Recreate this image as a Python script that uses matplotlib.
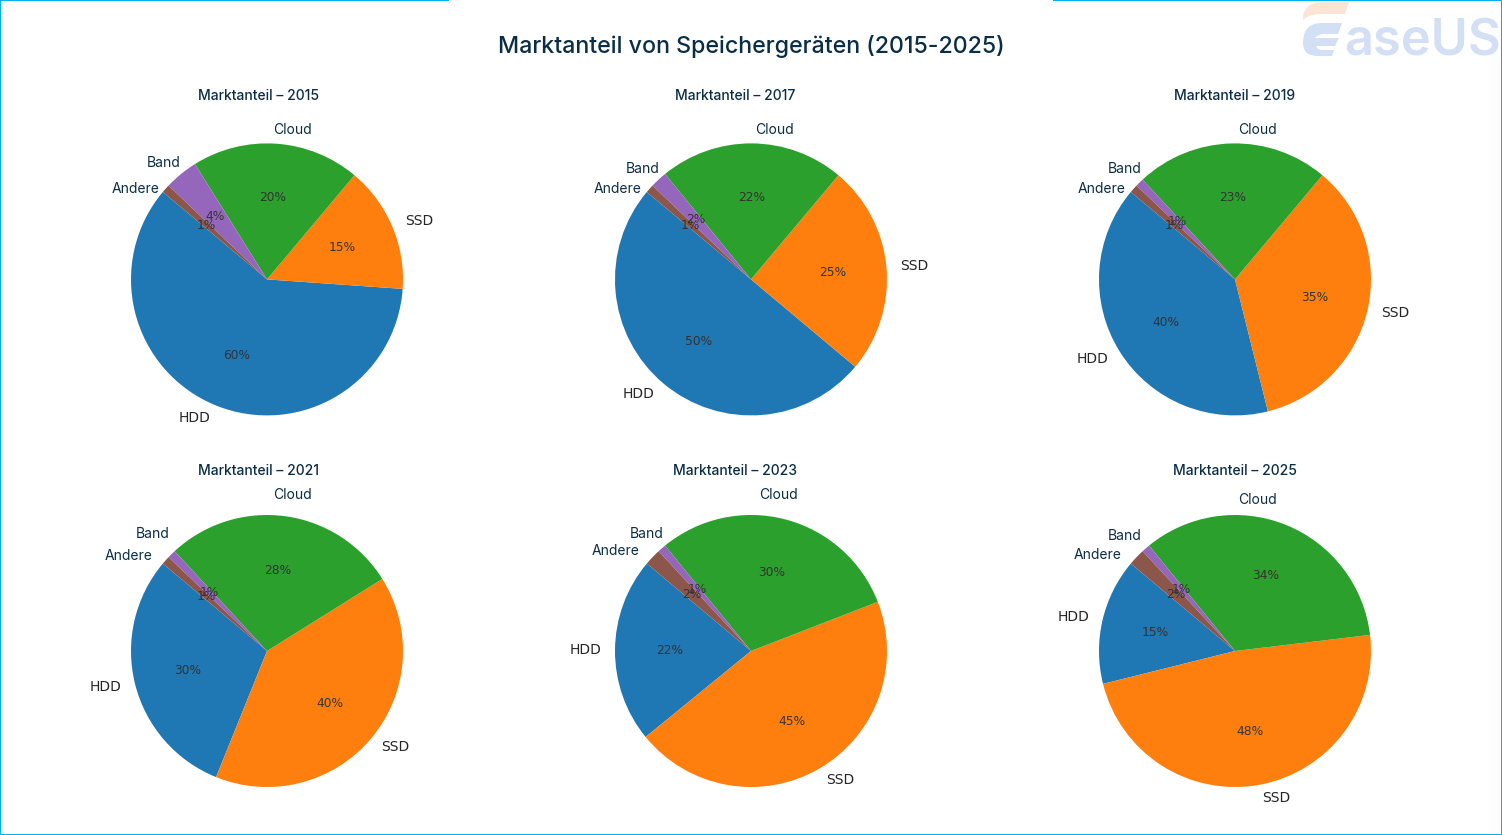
import matplotlib
matplotlib.use("Agg")
import matplotlib.pyplot as plt
from matplotlib.path import Path
from matplotlib.patches import PathPatch, Rectangle

W, H = 1502, 835
NAVY = "#0b2e47"
BORDER = "#00b0f0"
FONT = "Inter"

years = [2015, 2017, 2019, 2021, 2023, 2025]
categories = ["HDD", "SSD", "Cloud", "Band", "Andere"]
hdd = [60, 50, 40, 30, 22, 15]
ssd = [15, 25, 35, 40, 45, 48]
cloud = [20, 22, 23, 28, 30, 34]
band = [4, 2, 1, 1, 1, 1]
andere = [1, 1, 1, 1, 2, 2]
colors = ["#1f77b4", "#ff7f0e", "#2ca02c", "#9467bd", "#8c564b"]

centers = [(267, 279.4), (751, 279.4), (1235, 279.4), (267, 651), (751, 651), (1235, 651)]
radius_px = 136
title_pos = [(258, 96), (735, 96), (1235, 96), (258, 471), (735, 471), (1235, 471)]
cloud_pos = [(292.5, 130), (774.5, 130), (1257.5, 130), (292.5, 495), (778.5, 495), (1257.5, 500)]
band_pos = [(164, 163), (643, 169), (1125, 169), (153, 534), (647, 534), (1125, 536)]
andere_pos = [(136, 189), (618, 189), (1102, 189), (129, 556), (616, 551), (1098, 555)]

fig = plt.figure(figsize=(W / 100, H / 100), dpi=100, facecolor="white")

bg = fig.add_axes([0, 0, 1, 1], zorder=0)
bg.set_xlim(0, W)
bg.set_ylim(H, 0)
bg.axis("off")

# frame with the gap at the top
for x, y, w, h in [(0, 0, 449, 1), (1053, 0, W - 1053, 1), (0, 0, 1, H),
                   (W - 1, 0, 1, H), (0, H - 1, W, 1)]:
    bg.add_patch(Rectangle((x, y), w, h, fc=BORDER, ec="none", antialiased=False))

# watermark logo
C3, L2 = Path.CURVE3, Path.LINETO
peach = [(1349, 2), (1345, 14), (1325, 14), (1310, 13), (1303, 20), (1303, 15), (1307, 2), (1322, 2), (1349, 2)]
peach_c = [Path.MOVETO, L2, L2, C3, C3, L2, C3, C3, L2]
bg.add_patch(PathPatch(Path(peach, peach_c), fc="#fbe4d6", ec="none"))
e_verts = [(1342, 23), (1338, 34), (1322, 34), (1317, 35), (1315, 38), (1339, 38), (1335, 46), (1316, 46),
           (1317, 50), (1322, 50), (1334, 50), (1332, 56), (1318, 56), (1303, 56), (1303, 43),
           (1303, 23), (1322, 23), (1342, 23)]
e_codes = [Path.MOVETO, L2, L2, C3, C3, L2, L2, L2, C3, C3, L2, L2, L2, C3, C3, C3, C3, L2]
bg.add_patch(PathPatch(Path(e_verts, e_codes), fc="#d3dff5", ec="none"))
bg.text(1344, 55, "aseUS", family=FONT, fontsize=36.4, fontweight="semibold", color="#d3dff5",
        ha="left", va="baseline")

bg.text(751, 47, "Marktanteil von Speichergeräten (2015-2025)", family=FONT, fontsize=16.7,
        fontweight="medium", color=NAVY, ha="center", va="center")

for i, year in enumerate(years):
    cx, cy = centers[i]
    side = 2.5 * radius_px
    ax = fig.add_axes([(cx - side / 2) / W, 1 - (cy + side / 2) / H, side / W, side / H], zorder=1)
    values = [hdd[i], ssd[i], cloud[i], band[i], andere[i]]
    _, texts, autotexts = ax.pie(values, labels=["HDD", "SSD", "", "", ""], colors=colors,
                                 autopct="%1.0f%%", startangle=140, textprops={"fontsize": 10})
    for t in texts:
        t.set_color("#262626")
    for t in autotexts:
        t.set_fontsize(8.8)
        t.set_color("#333333")
    kw = dict(family=FONT, color=NAVY, ha="center", va="center", zorder=5)
    bg.text(*title_pos[i], f"Marktanteil – {year}", fontsize=10, fontweight="medium", **kw)
    bg.text(*cloud_pos[i], categories[2], fontsize=10, **kw)
    bg.text(*band_pos[i], categories[3], fontsize=10, **kw)
    bg.text(*andere_pos[i], categories[4], fontsize=10, **kw)

fig.savefig("out.png", dpi=100)
